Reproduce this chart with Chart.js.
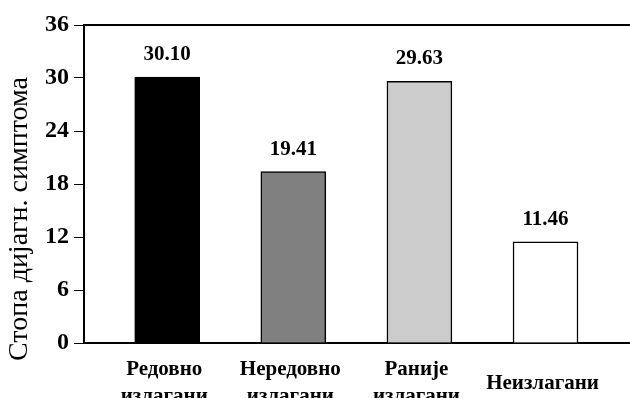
<!DOCTYPE html>
<html><head><meta charset="utf-8">
<script src="https://cdn.jsdelivr.net/npm/chart.js@4"></script>
<style>html,body{margin:0;padding:0;background:#fff}#w{width:630px;height:398px;position:relative}</style>
</head><body><div id="w"><canvas id="c"></canvas></div>
<script>
const categories = [["Редовно","излагани"],["Нередовно","излагани"],["Раније","излагани"],"Неизлагани"];
const values = [30.10, 19.41, 29.63, 11.46];
const valueLabels = ["30.10","19.41","29.63","11.46"];
const yTicks = [0, 6, 12, 18, 24, 30, 36];
const yTitle = "Стопа дијагн. симптома";
const colors = ["#000000","#808080","#cccccc","#ffffff"];

const SERIF = "'Liberation Serif','Times New Roman',serif";

const framePlugin = {
  id: 'frame',
  afterDraw(chart) {
    const {ctx, chartArea} = chart;
    ctx.save();
    ctx.strokeStyle = '#000';
    ctx.lineWidth = 2;
    ctx.beginPath();
    ctx.moveTo(chartArea.left - 1, chartArea.top);
    ctx.lineTo(chartArea.right, chartArea.top);
    ctx.stroke();
    ctx.fillStyle = '#000';
    ctx.font = "28px " + SERIF;
    ctx.textAlign = 'center';
    ctx.textBaseline = 'middle';
    ctx.translate(20, 219);
    ctx.rotate(-Math.PI / 2);
    ctx.fillText(yTitle, 0, 0);
    ctx.restore();
  },
  afterDatasetsDraw(chart) {
    const {ctx} = chart;
    const meta = chart.getDatasetMeta(0);
    ctx.save();
    ctx.fillStyle = '#000';
    ctx.font = "bold 21px " + SERIF;
    ctx.textAlign = 'center';
    ctx.textBaseline = 'alphabetic';
    meta.data.forEach((bar, i) => {
      ctx.fillText(valueLabels[i], bar.x, bar.y - 17);
    });
    ctx.restore();
  }
};

new Chart(document.getElementById('c'), {
  type: 'bar',
  data: {
    datasets: [{
      data: values.map((v, i) => ({x: i, y: v})),
      backgroundColor: colors,
      borderColor: '#000',
      borderWidth: 1.5,
      barThickness: 65
    }]
  },
  options: {
    responsive: true,
    maintainAspectRatio: false,
    animation: false,
    layout: {padding: {top: 25, right: 0, left: 0, bottom: 0}},
    plugins: {legend: {display: false}, tooltip: {enabled: false}},
    scales: {
      x: {
        type: 'linear',
        offset: false,
        min: -0.66,
        max: 3.67,
        afterBuildTicks: axis => { axis.ticks = categories.map((_, i) => ({value: i})); },
        afterFit: axis => { axis.height = 55; },
        grid: {display: false, drawTicks: false, offset: false},
        border: {display: true, color: '#000', width: 2},
        ticks: {
          callback: (v) => categories[v],
          color: '#000',
          font: {family: SERIF, size: 21, weight: 'bold', lineHeight: 1.25},
          padding: 27,
          labelOffset: -3,
          crossAlign: 'center',
          maxRotation: 0,
          autoSkip: false
        }
      },
      y: {
        min: 0,
        max: 36,
        afterBuildTicks: axis => { axis.ticks = yTicks.map(v => ({value: v})); },
        afterFit: axis => { axis.width = 84; },
        grid: {display: true, drawOnChartArea: false, drawTicks: true, tickLength: 10, color: '#000', lineWidth: 1},
        border: {display: true, color: '#000', width: 2},
        ticks: {
          color: '#000',
          font: {family: SERIF, size: 24, weight: 'bold'},
          padding: 5
        }
      }
    }
  },
  plugins: [framePlugin]
});
</script>
</body></html>
